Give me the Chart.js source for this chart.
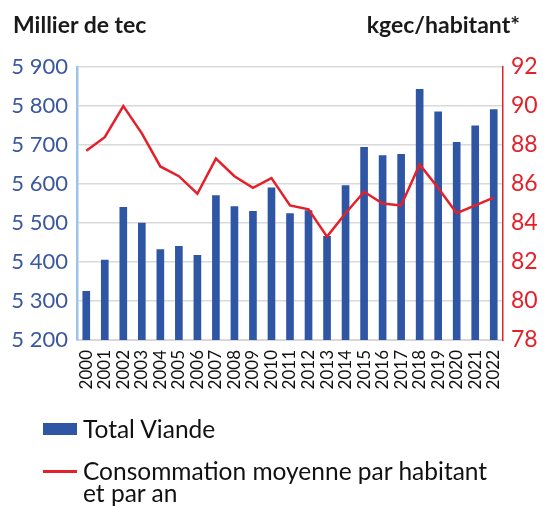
<!DOCTYPE html>
<html>
<head>
<meta charset="utf-8">
<script src="https://cdn.jsdelivr.net/npm/chart.js@4"></script>
<style>
  body { margin: 0; background: #fff; font-family: Lato, "Open Sans", sans-serif; }
  #wrap { position: relative; width: 546px; height: 506px; }
  .axis-title { position: absolute; top: 10px; font-size: 23px; font-weight: bold; color: #1a1a1a; }
  #legend { position: absolute; left: 43px; top: 418px; font-size: 24.5px; color: #111; }
  .item { display: flex; align-items: flex-start; margin-bottom: 20px; line-height: 22px; }
  .swatch { width: 34px; flex: none; margin-right: 6px; }
</style>
</head>
<body>
<div id="wrap">
  <canvas id="chart" width="546" height="506"></canvas>
  <div class="axis-title" style="left:13px">Millier de tec</div>
  <div class="axis-title" style="right:26px">kgec/habitant*</div>
  <div id="legend"></div>
</div>
<script>
const years = ["2000", "2001", "2002", "2003", "2004", "2005", "2006", "2007", "2008", "2009", "2010", "2011",
  "2012", "2013", "2014", "2015", "2016", "2017", "2018", "2019", "2020", "2021", "2022"];
const totalViande = [5325, 5405, 5540, 5500, 5432, 5440, 5417, 5570, 5542, 5530, 5590, 5524,
  5532, 5466, 5596, 5694, 5673, 5676, 5843, 5785, 5707, 5749, 5791];
const consommation = [87.7, 88.4, 90.0, 88.6, 86.9, 86.4, 85.5, 87.3, 86.4, 85.8, 86.3, 84.9,
  84.7, 83.3, 84.5, 85.6, 85.0, 84.9, 87.0, 85.8, 84.5, 84.9, 85.3];
const leftTicks = [5200, 5300, 5400, 5500, 5600, 5700, 5800, 5900];
const rightTicks = [78, 80, 82, 84, 86, 88, 90, 92];

const blue = "#2f56a5";
const red = "#e4202a";

function thousands(v) {
  return String(v).replace(/\B(?=(\d{3})+(?!\d))/g, " ");
}

const chart = new Chart(document.getElementById("chart"), {
  data: {
    labels: years,
    datasets: [
      {
        type: "line",
        label: "Consommation moyenne par habitant et par an",
        data: consommation,
        yAxisID: "y1",
        borderColor: red,
        backgroundColor: red,
        borderWidth: 2.5,
        pointRadius: 0,
        tension: 0,
      },
      {
        type: "bar",
        label: "Total Viande",
        data: totalViande,
        yAxisID: "y",
        backgroundColor: blue,
        barThickness: 7,
      },
    ],
  },
  options: {
    responsive: false,
    animation: false,
    layout: { padding: { top: 67, right: 0, left: 0, bottom: 0 } },
    plugins: { legend: { display: false }, tooltip: { enabled: false } },
    scales: {
      x: {
        offset: true,
        grid: { display: false },
        border: { color: "#d6d6d6" },
        ticks: {
          autoSkip: false,
          minRotation: 90,
          maxRotation: 90,
          padding: 2,
          color: "#111",
          font: { family: "Lato", size: 17 },
        },
        afterFit: (s) => { s.height = 166; },
      },
      y: {
        position: "left",
        min: leftTicks[0],
        max: leftTicks[leftTicks.length - 1],
        afterBuildTicks: (s) => { s.ticks = leftTicks.map((v) => ({ value: v })); },
        grid: { color: "#d9d9d9", lineWidth: 1.5, drawTicks: false },
        border: { color: "#9cc4e6", width: 2.5 },
        ticks: {
          padding: 9,
          color: "#3a57a0",
          font: { family: "Lato", size: 22 },
          callback: (v) => thousands(v),
        },
        afterFit: (s) => { s.width = 77; },
      },
      y1: {
        position: "right",
        min: rightTicks[0],
        max: rightTicks[rightTicks.length - 1],
        afterBuildTicks: (s) => { s.ticks = rightTicks.map((v) => ({ value: v })); },
        grid: { drawOnChartArea: false, drawTicks: false },
        border: { color: red, width: 1.5 },
        ticks: {
          padding: 8,
          color: red,
          font: { family: "Lato", size: 23 },
        },
        afterFit: (s) => { s.width = 43; },
      },
    },
  },
});

// Legend built from the datasets (bars first, like the reference)
const legend = document.getElementById("legend");
[1, 0].forEach((i) => {
  const ds = chart.data.datasets[i];
  const item = document.createElement("div");
  item.className = "item";
  const sw = document.createElement("div");
  sw.className = "swatch";
  if (ds.type === "bar") {
    sw.style.height = "12px";
    sw.style.marginTop = "5px";
    sw.style.background = ds.backgroundColor;
  } else {
    sw.style.height = "2.5px";
    sw.style.marginTop = "10px";
    sw.style.background = ds.borderColor;
  }
  const txt = document.createElement("div");
  txt.style.width = "470px";
  txt.innerHTML = ds.label.replace(" et par an", "<br>et par an");
  item.appendChild(sw);
  item.appendChild(txt);
  legend.appendChild(item);
});
</script>
</body>
</html>
